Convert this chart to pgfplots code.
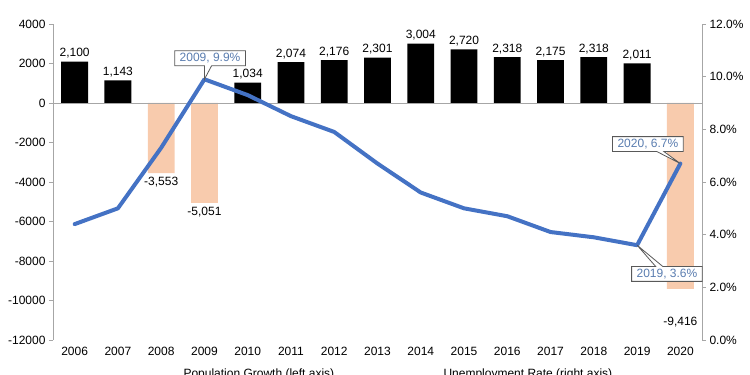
\documentclass[border=0pt]{standalone}
\usepackage{pgfplots}
\usepackage{pgfplotstable}
\pgfplotsset{compat=1.18}
\usepackage{fontspec}
\setmainfont{Liberation Sans}
\usetikzlibrary{shapes.callouts}
\definecolor{lineblue}{HTML}{4472C4}
\definecolor{peach}{HTML}{F8CBAD}
\definecolor{axgray}{HTML}{A6A6A6}
\definecolor{calltext}{HTML}{5A7DB0}
\definecolor{boxgray}{HTML}{595959}

\pgfplotsset{/pgf/number format/assume math mode=true}

\pgfplotstableread{
x y
0 2100
1 1143
4 1034
5 2074
6 2176
7 2301
8 3004
9 2720
10 2318
11 2175
12 2318
13 2011
}\posdata

\pgfplotstableread{
x y dy
2 -3553 0
3 -5051 0
14 -9416 -24
}\negdata

\pgfplotstableread{
x y
0 4.4
1 5.0
2 7.3
3 9.9
4 9.3
5 8.5
6 7.9
7 6.7
8 5.6
9 5.0
10 4.7
11 4.1
12 3.9
13 3.6
14 6.7
}\unemp

\begin{document}
\begin{tikzpicture}[font=\fontsize{12}{14}\selectfont]
\clip (-53pt,-35pt) rectangle (697pt,340pt);
\begin{axis}[
  scale only axis, width=649pt, height=316pt,
  at={(0pt,0pt)}, anchor=south west,
  xmin=-0.5, xmax=14.5, ymin=-12000, ymax=4000,
  xtick={0,...,14},
  xticklabels={2006,2007,2008,2009,2010,2011,2012,2013,2014,2015,2016,2017,2018,2019,2020},
  ytick={-12000,-10000,...,4000},
  scaled y ticks=false,
  axis x line*=bottom, axis y line*=left,
  x axis line style={draw=none},
  y axis line style={draw=axgray, line width=0.8pt, -},
  xtick style={draw=none},
  ytick style={draw=axgray, line width=0.8pt},
  tick align=outside, major tick length=4pt,
  yticklabel style={/pgf/number format/1000 sep={}, text=black},
  xticklabel style={text=black},
  clip=false,
]
\addplot[ybar, bar width=0.62, bar shift=0pt, fill=black, draw=none,
  nodes near coords={\pgfmathprintnumber[fixed,precision=0,1000 sep={,}]{\pgfplotspointmeta}},
  every node near coord/.append style={anchor=south, text=black, inner sep=3pt}]
  table[x=x,y=y]{\posdata};
\addplot[ybar, bar width=0.62, bar shift=0pt, fill=peach, draw=none,
  visualization depends on={\thisrow{dy} \as \dy},
  nodes near coords={\pgfmathprintnumber[fixed,precision=0,1000 sep={,}]{\pgfplotspointmeta}},
  every node near coord/.append style={anchor=north, text=black, inner sep=4pt, yshift=\dy pt}]
  table[x=x,y=y]{\negdata};
\draw[axgray, line width=0.8pt] (axis cs:-0.5,0) -- (axis cs:14.5,0);
\end{axis}
\begin{axis}[
  scale only axis, width=649pt, height=316pt,
  at={(0pt,0pt)}, anchor=south west,
  xmin=-0.5, xmax=14.5, ymin=0, ymax=12,
  ytick={0,2,...,12},
  axis y line*=right, axis x line=none,
  y axis line style={draw=axgray, line width=0.8pt, -},
  ytick style={draw=axgray, line width=0.8pt},
  tick align=outside, major tick length=4pt,
  yticklabel={\pgfmathprintnumber[fixed,fixed zerofill,precision=1]{\tick}\%},
  yticklabel style={text=black},
  clip=false,
]
\addplot[lineblue, line width=4pt, line join=round, line cap=round, mark=none] table[x=x,y=y]{\unemp};
\node[rectangle callout, draw=boxgray, fill=white, text=calltext, line width=0.8pt,
  inner xsep=5pt, inner ysep=2.5pt,
  callout absolute pointer={(axis cs:3,9.9)}] at (axis cs:3.13,10.7) {2009, 9.9\%};
\node[rectangle callout, draw=boxgray, fill=white, text=calltext, line width=0.8pt,
  inner xsep=5pt, inner ysep=2.5pt,
  callout absolute pointer={(axis cs:14,6.7)}] at (axis cs:13.25,7.44) {2020, 6.7\%};
\node[rectangle callout, draw=boxgray, fill=white, text=calltext, line width=0.8pt,
  inner xsep=5pt, inner ysep=2.5pt,
  callout absolute pointer={(axis cs:13,3.6)}] at (axis cs:13.69,2.51) {2019, 3.6\%};
\end{axis}
\node[anchor=west, text=black] at (127pt,-34pt) {Population Growth (left axis)};
\node[anchor=west, text=black] at (387pt,-34pt) {Unemployment Rate (right axis)};
\end{tikzpicture}
\end{document}
